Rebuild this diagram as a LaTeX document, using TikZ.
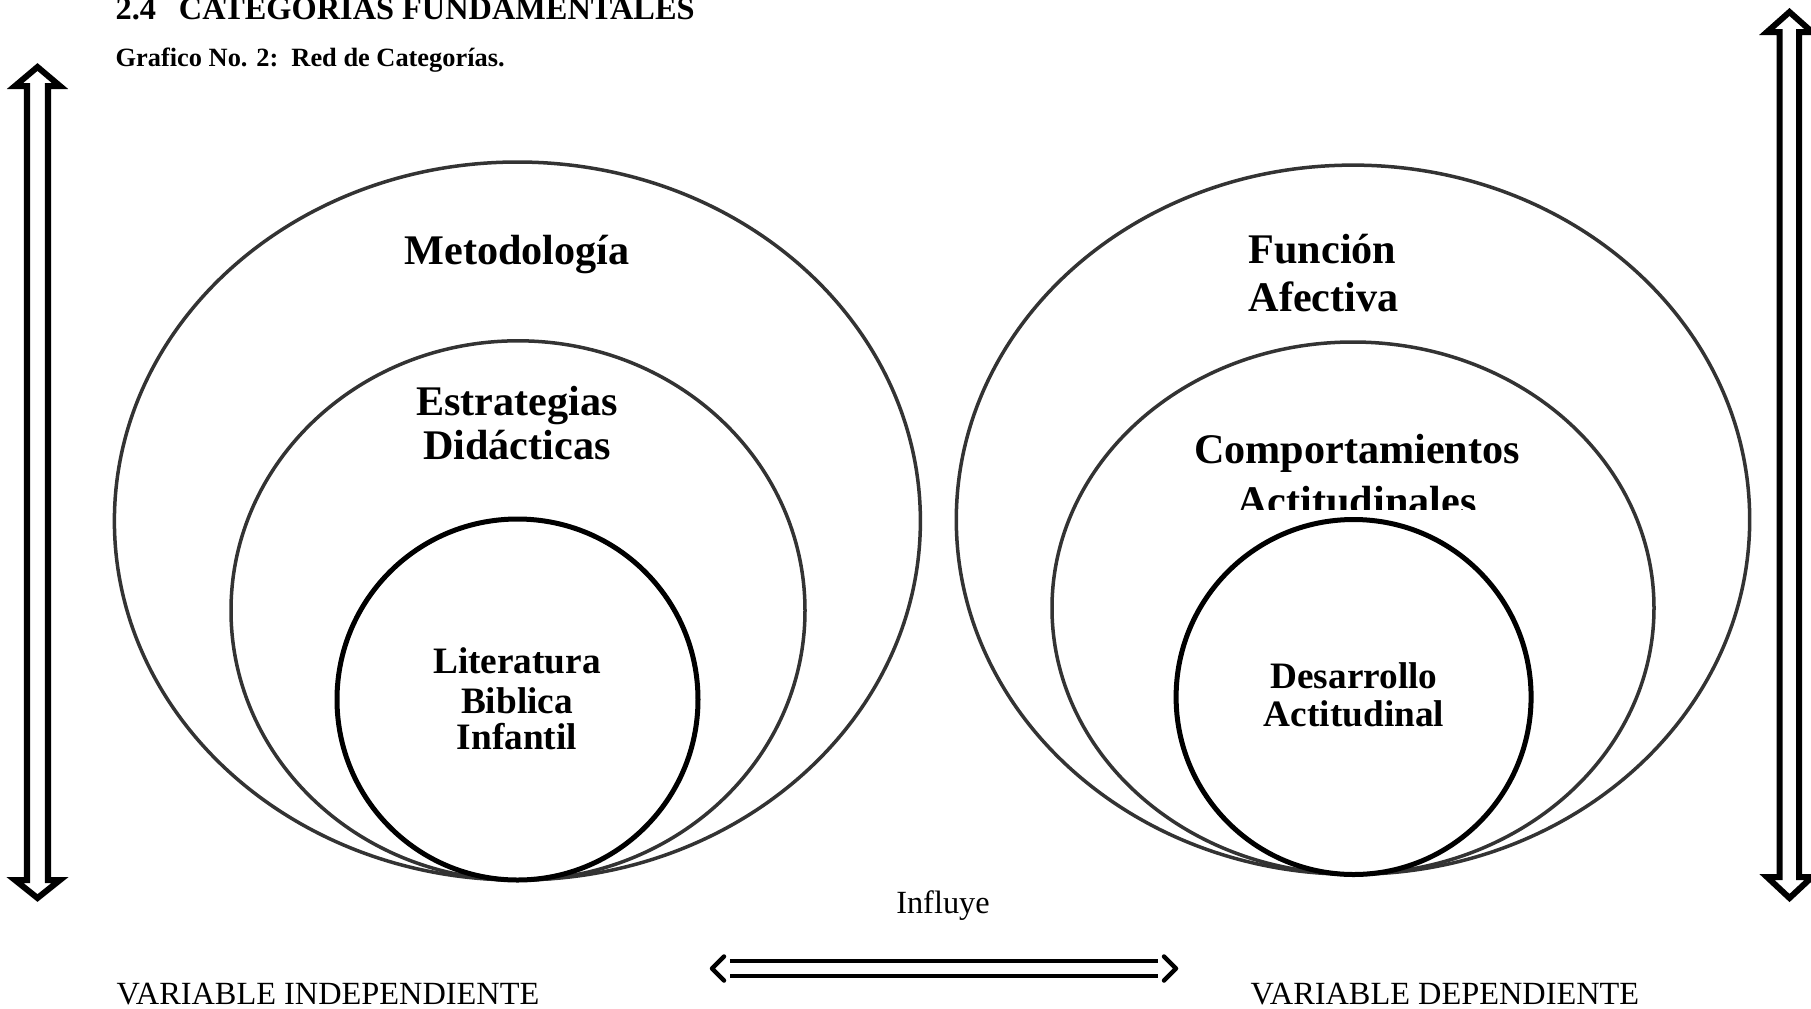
\documentclass[tikz,border=0pt]{standalone}
\usepackage{fontspec}
\setmainfont{Liberation Serif}

\tikzset{
	outer ring/.style={draw=black!80, line width=0.035cm},
	inner ring/.style={draw=black, line width=0.05cm},
	big label/.style={font=\bfseries\fontsize{12}{14}\selectfont, inner sep=0pt, anchor=base},
	small label/.style={font=\bfseries\fontsize{10.6}{12}\selectfont, inner sep=0pt, anchor=base},
	plain label/.style={font=\fontsize{9.2}{11}\selectfont, inner sep=0pt, anchor=base west},
	block arrow/.style={draw=black, line width=0.06cm},
	influence line/.style={double, double distance=0.11cm, line width=0.04cm},
	chevron/.style={draw=black, line width=0.045cm, line join=round, line cap=round},
}

\begin{document}
\begin{tikzpicture}[x=0.01cm, y=-0.01cm]
		\useasboundingbox (0,0) rectangle (1811,1008);
		% heading
		\node[anchor=base west, inner sep=0pt, font=\bfseries\fontsize{9.2}{10}\selectfont] (titulo) at (115,19) {2.4\hspace{6.5pt}CATEGORIAS FUNDAMENTALES};
		\node[anchor=base west, inner sep=0pt, font=\bfseries\fontsize{7.5}{9}\selectfont] (grafico) at (115,66.5) {Grafico No. 2:~~Red de Categorías.};
		% independent variable
		\draw[outer ring] (517.4,521) ellipse [x radius=403, y radius=359];
		\draw[outer ring] (518,610.5) ellipse [x radius=287, y radius=269.7];
		\draw[inner ring] (517.5,699.5) circle [radius=180.5];
		\node[big label] (metodo) at (517,264) {Metodología};
		\node[big label] (estrat) at (517,415) {Estrategias};
		\node[big label] (didac) at (517,459) {Didácticas};
		\node[small label] (liter) at (517,673) {Literatura};
		\node[small label] (biblica) at (517,713) {Biblica};
		\node[small label] (infantil) at (517,749) {Infantil};
		% dependent variable
		\draw[outer ring] (1353,519.7) ellipse [x radius=396.7, y radius=354.6];
		\draw[outer ring] (1353,608) ellipse [x radius=301, y radius=266];
		\draw[inner ring] (1353.6,697) circle [radius=177.5];
		\node[big label, anchor=base west] (funcion) at (1248,263) {Función};
		\node[big label, anchor=base west] (afect) at (1248,311) {Afectiva};
		\node[big label] (compor) at (1357,463) {Comportamientos};
		\begin{scope}
			\clip (1150,470) rectangle (1560,509);
			\node[big label] (actit) at (1357,515) {Actitudinales};
		\end{scope}
		\node[small label] (desarr) at (1354,688) {Desarrollo};
		\node[small label] (actitud) at (1354,726) {Actitudinal};
		% arrows
		\draw[block arrow] (37.5,67) -- (60,86) -- (48,86) -- (48,880) -- (60,880) -- (37.5,898)
		-- (15,880) -- (27,880) -- (27,86) -- (15,86) -- cycle;
		\draw[block arrow] (1789.5,12) -- (1812,32) -- (1799,32) -- (1799,877) -- (1812,877) -- (1789.5,898)
		-- (1767,877) -- (1779.5,877) -- (1779.5,32) -- (1767,32) -- cycle;
		\coordinate (inf-l) at (712,968.5);
		\coordinate (inf-r) at (1176,968.5);
		\draw[influence line] ([xshift=5]inf-l) -- ([xshift=-5]inf-r);
		\draw[chevron] ([shift={(12,-12)}]inf-l) -- (inf-l) -- ([shift={(12,12)}]inf-l);
		\draw[chevron] ([shift={(-12,-12)}]inf-r) -- (inf-r) -- ([shift={(-12,12)}]inf-r);
		\node[plain label, anchor=base] (influye) at (943,913) {Influye};
		\node[plain label] (varind) at (116,1004) {VARIABLE INDEPENDIENTE};
		\node[plain label] (vardep) at (1250,1004) {VARIABLE DEPENDIENTE};
	\end{tikzpicture}
\end{document}
